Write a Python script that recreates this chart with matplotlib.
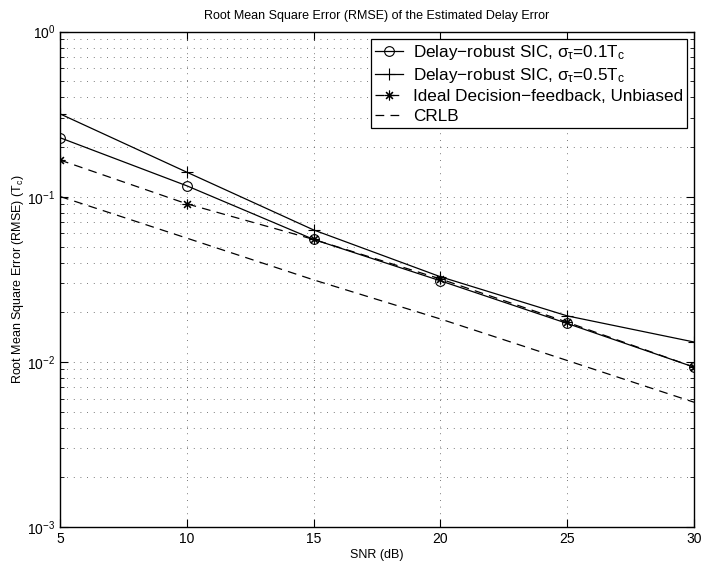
import numpy as np
import matplotlib
matplotlib.use("Agg")
import matplotlib.pyplot as plt
from matplotlib.ticker import LogLocator, NullFormatter

plt.rcParams['font.family'] = ['Liberation Sans', 'DejaVu Sans']
plt.rcParams['mathtext.fontset'] = 'custom'
plt.rcParams['mathtext.rm'] = 'Liberation Sans'
plt.rcParams['mathtext.it'] = 'Liberation Sans'

# Data
snr = [5, 10, 15, 20, 25, 30]
rmse_sic_01 = [0.228, 0.1166, 0.0552, 0.0310, 0.0171, 0.0093]
rmse_sic_05 = [0.318, 0.141, 0.0630, 0.0328, 0.0190, 0.0132]
rmse_ideal = [0.167, 0.0907, 0.0552, 0.0318, 0.0174, 0.0093]
rmse_crlb = [0.1005, 0.0562, 0.0314, 0.0182, 0.0102, 0.0057]

labels = [r"Delay$-$robust SIC, $\sigma_\tau$=0.1T$_\mathrm{c}$",
          r"Delay$-$robust SIC, $\sigma_\tau$=0.5T$_\mathrm{c}$",
          "Ideal Decision\u2212feedback, Unbiased",
          "CRLB"]

fig = plt.figure(figsize=(7.04, 5.70), dpi=100)
ax = fig.add_axes([0.0852, 0.0754, 0.9006, 0.869])

lw = 0.9
ax.plot(snr, rmse_sic_01, color='k', lw=lw, marker='o', ms=7, mfc='none', mew=0.8, label=labels[0])
ax.plot(snr, rmse_sic_05, color='k', lw=lw, marker='+', ms=9, mew=0.8, label=labels[1])
ax.plot(snr, rmse_ideal, color='k', lw=lw, ls=(0, (7, 5)), marker=(8, 2, 0), ms=7, mew=0.8, label=labels[2])
ax.plot(snr, rmse_crlb, color='k', lw=lw, ls=(0, (7, 5)), label=labels[3])

ax.set_yscale('log')
ax.set_xlim(5, 30)
ax.set_ylim(1e-3, 1)
ax.set_xticks([5, 10, 15, 20, 25, 30])
ax.yaxis.set_major_locator(LogLocator(base=10, numticks=10))
ax.yaxis.set_minor_locator(LogLocator(base=10, subs=np.arange(2, 10), numticks=20))
ax.yaxis.set_minor_formatter(NullFormatter())

ax.grid(True, which='major', ls=(0, (1, 7)), color='0.3', lw=0.6)
ax.grid(True, which='minor', axis='y', ls=(0, (1, 7)), color='0.3', lw=0.6)
ax.tick_params(which='both', direction='in', top=True, right=True, labelsize=10)
ax.tick_params(which='major', length=6)
ax.tick_params(which='minor', length=3)
for s in ax.spines.values():
    s.set_linewidth(1.0)

ax.set_title("Root Mean Square Error (RMSE) of the Estimated Delay Error", fontsize=9, pad=9)
ax.set_xlabel("SNR (dB)", fontsize=9, labelpad=2)
ax.set_ylabel(r"Root Mean Square Error (RMSE) (T$_\mathrm{c}$)", fontsize=9, labelpad=1)

leg = ax.legend(loc='upper right', fontsize=12.3, frameon=True, fancybox=False,
                edgecolor='k', framealpha=1, handlelength=1.6, labelspacing=0.25,
                borderpad=0.25, handletextpad=0.6, borderaxespad=0.4)
leg.get_frame().set_linewidth(0.9)

fig.savefig("out.png", dpi=100)
